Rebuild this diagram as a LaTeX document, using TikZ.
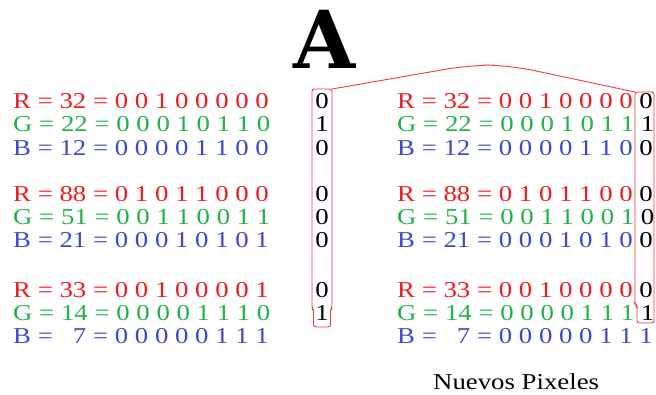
\documentclass[tikz,border=0pt]{standalone}
\usepackage{fontspec}
\setmainfont{Liberation Serif}
\newfontfamily\widefam[FakeStretch=1.18]{Liberation Serif}
\newfontfamily\bigAfont{DejaVu Serif}
\definecolor{pr}{RGB}{237,28,36}
\definecolor{pg}{RGB}{34,177,76}
\definecolor{pb}{RGB}{63,72,204}
\definecolor{boxred}{RGB}{236,60,64}
\newcommand{\rowfont}{\widefam\fontsize{22.7bp}{23bp}\selectfont}
\newcommand{\bk}[1]{\textcolor{black}{#1}}
\tikzset{
  row/.style={anchor=base west, inner sep=0pt, font=\rowfont},
  bit/.style={anchor=base, inner sep=0pt, font=\rowfont, text=black},
  lsbbox/.style={draw=boxred, line width=0.9pt, rounded corners=2.5bp},
  link/.style={draw=boxred, line width=0.9pt, rounded corners=25bp}
}
\begin{document}
\begin{tikzpicture}[x=1bp,y=-1bp]
\useasboundingbox (0,0) rectangle (656,394);
% title
\node[anchor=base, inner sep=0pt, font=\bigAfont\bfseries\fontsize{80bp}{80bp}\selectfont] (title) at (325,68) {A};
% left column
\node[row, text=pr] (l1) at (13,108.5) {R = 32 = 0 0 1 0 0 0 0 0};
\node[row, text=pg] (l2) at (13,131.5) {G = 22 = 0 0 0 1 0 1 1 0};
\node[row, text=pb] (l3) at (13,155) {B = 12 = 0 0 0 0 1 1 0 0};
\node[row, text=pr] (l4) at (13,201) {R = 88 = 0 1 0 1 1 0 0 0};
\node[row, text=pg] (l5) at (13,224) {G = 51 = 0 0 1 1 0 0 1 1};
\node[row, text=pb] (l6) at (13,247) {B = 21 = 0 0 0 1 0 1 0 1};
\node[row, text=pr] (l7) at (13,297) {R = 33 = 0 0 1 0 0 0 0 1};
\node[row, text=pg] (l8) at (13,320) {G = 14 = 0 0 0 0 1 1 1 0};
\node[row, text=pb] (l9) at (13,343) {B = \phantom{0}7 = 0 0 0 0 0 1 1 1};
% message bits
\node[bit] (m1) at (322,108.5) {0};
\node[bit] (m2) at (322,131.5) {1};
\node[bit] (m3) at (322,155) {0};
\node[bit] (m4) at (322,201) {0};
\node[bit] (m5) at (322,224) {0};
\node[bit] (m6) at (322,247) {0};
\node[bit] (m7) at (322,297) {0};
\node[bit] (m8) at (322,320) {1};
% right column
\node[row, text=pr] (r1) at (397,108.5) {R = 32 = 0 0 1 0 0 0 0 \bk{0}};
\node[row, text=pg] (r2) at (397,131.5) {G = 22 = 0 0 0 1 0 1 1 \bk{1}};
\node[row, text=pb] (r3) at (397,155) {B = 12 = 0 0 0 0 1 1 0 \bk{0}};
\node[row, text=pr] (r4) at (397,201) {R = 88 = 0 1 0 1 1 0 0 \bk{0}};
\node[row, text=pg] (r5) at (397,224) {G = 51 = 0 0 1 1 0 0 1 \bk{0}};
\node[row, text=pb] (r6) at (397,247) {B = 21 = 0 0 0 1 0 1 0 \bk{0}};
\node[row, text=pr] (r7) at (397,297) {R = 33 = 0 0 1 0 0 0 0 \bk{0}};
\node[row, text=pg] (r8) at (397,320) {G = 14 = 0 0 0 0 1 1 1 \bk{1}};
\node[row, text=pb] (r9) at (397,343) {B = \phantom{0}7 = 0 0 0 0 0 1 1 1};
% boxes
\coordinate (lbtr) at (332,89);
\coordinate (rbtl) at (635,92);
\draw[lsbbox] (312,89) -- (lbtr) -- (332,308) -- (330.5,310) -- (330.5,327) -- (313.5,327) -- (313.5,310) -- (312,308) -- cycle;
\draw[lsbbox] (rbtl) -- (654,92) -- (654,323) -- (637,323) -- (637,306) -- (635,304) -- cycle;
% link
\draw[link] (lbtr) -- (470,65) -- (508,65) -- (rbtl);
% caption
\node[anchor=base west, inner sep=0pt, font=\rowfont] (cap) at (433,389) {Nuevos Pixeles};
\end{tikzpicture}
\end{document}
